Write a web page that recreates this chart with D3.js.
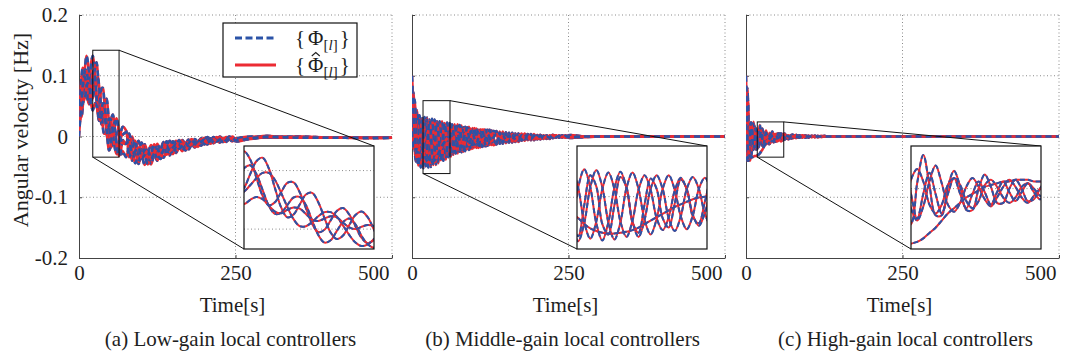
<!DOCTYPE html>
<html>
<head>
<meta charset="utf-8">
<script src="https://cdn.jsdelivr.net/npm/d3@7"></script>
<style>
  body { margin: 0; background: #fff; }
</style>
</head>
<body>
<svg id="chart" width="1068" height="356"></svg>
<script>
// ---- data ----
const xTicks = [0, 250, 500];
const yTicks = [-0.2, -0.1, 0, 0.1, 0.2];
const captions = ['(a) Low-gain local controllers', '(b) Middle-gain local controllers', '(c) High-gain local controllers'];
const legendLabels = ['Φ', 'Φ'];
const legendHat = [false, true];

// time grid of the low-gain traces [s]
const timeLow = [0, 2, 4, 6, 8, 10, 12, 14, 16, 18, 20, 22, 24, 26, 28, 30, 32, 34, 36, 38, 40, 42, 44, 46, 48, 50, 52, 54, 56, 58, 60, 62, 64, 66, 68, 70,
  75, 80, 85, 90, 95, 100, 105, 110, 115, 120, 125, 130, 135, 140, 145, 150, 155, 160, 165, 170, 175, 180, 185, 190, 195, 200, 205, 210, 215, 220, 225, 230, 235, 240, 245, 250,
  275, 300, 325, 350, 375, 400, 425, 450, 475, 500];

const lowGain = [
  [.035, .066, .097, .113, .109, .09, .068, .061, .073, .1, .125, .133, .119, .088, .057, .041, .046, .063, .079, .08, .063, .036, .009, -.005, -.001, .015, .031, .036, .025, .005, -.015, -.024, -.018, -.003, .012, .016,
    .01, -.016, -.04, -.024, -.007, -.028, -.047, -.03, -.014, -.028, -.04, -.024, -.009, -.02, -.031, -.018, -.007, -.016, -.024, -.014, -.005, -.012, -.018, -.01, -.003, -.008, -.013, -.007, -.001, -.006, -.01, -.005, -.001, -.004, -.008, -.004,
    -.002, .001, -.001, 0, -.001, -.002, -.002, -.002, -.002, -.002],
  [.06, .038, .032, .05, .084, .118, .133, .124, .098, .072, .06, .07, .094, .116, .122, .104, .07, .037, .02, .025, .042, .059, .062, .046, .019, -.006, -.017, -.011, .007, .024, .03, .02, -.001, -.02, -.029, -.024,
    -.034, -.016, 0, -.024, -.045, -.028, -.013, -.03, -.046, -.028, -.012, -.024, -.035, -.02, -.007, -.018, -.027, -.016, -.006, -.014, -.021, -.012, -.004, -.01, -.015, -.008, -.001, -.007, -.011, -.006, 0, -.005, -.009, -.004, 0, -.004,
    -.004, -.001, -.002, -.001, -.002, -.002, -.002, -.003, -.002, -.002],
  [.02, .032, .053, .077, .098, .11, .107, .095, .079, .066, .06, .064, .075, .087, .096, .096, .084, .062, .038, .017, .005, .005, .012, .022, .029, .029, .021, .006, -.01, -.023, -.029, -.026, -.017, -.007, .001, .003,
    .007, -.034, -.02, -.007, -.042, -.028, -.015, -.044, -.03, -.015, -.038, -.024, -.011, -.03, -.019, -.008, -.026, -.016, -.007, -.022, -.013, -.005, -.017, -.01, -.004, -.013, -.007, -.003, -.01, -.006, -.001, -.008, -.005, -.001, -.007, -.004,
    0, -.002, 0, -.001, -.002, -.002, -.002, -.002, -.002, -.002],
  [.015, .03, .057, .084, .099, .096, .078, .06, .053, .064, .085, .104, .109, .094, .067, .04, .026, .028, .041, .054, .055, .041, .015, -.01, -.023, -.019, -.003, .012, .018, .008, -.012, -.026, -.032, -.028, -.016, -.006,
    -.012, .005, -.02, -.044, -.026, -.01, -.03, -.046, -.03, -.013, -.026, -.037, -.022, -.008, -.019, -.029, -.017, -.006, -.015, -.023, -.013, -.004, -.011, -.017, -.009, -.002, -.007, -.012, -.006, -.001, -.005, -.009, -.005, 0, -.004, -.008,
    -.003, 0, -.002, -.001, -.001, -.002, -.002, -.002, -.003, -.002],
  [0, .03, .05, .055, .06, .066, .08, .088, .085, .068, .05, .043, .05, .055, .051, .04, .03, .027, .033, .037, .035, .026, .016, .014, .018, .022, .02, .011, .003, 0, .004, .007, .005, -.002, -.009, -.011,
    -.012, -.007, -.029, -.024, -.018, -.036, -.03, -.023, -.037, -.028, -.02, -.03, -.022, -.015, -.024, -.018, -.013, -.02, -.015, -.01, -.016, -.012, -.008, -.013, -.009, -.005, -.01, -.007, -.004, -.008, -.005, -.003, -.007, -.004, -.002, -.006,
    -.003, -.001, -.001, -.002, -.002, -.002, -.002, -.002, -.002, -.002]
];

const timeMiddle = [0, 2, 4, 6, 8, 10, 12, 14, 16, 18, 20, 22, 24, 26, 28, 30, 32, 34, 36, 38, 40, 42, 44, 46, 48, 50, 52, 54, 56, 58, 60, 62, 64, 66, 68, 70,
  73, 76, 79, 82, 85, 88, 91, 94, 97, 100, 103, 106, 109, 112, 115, 118, 121, 124, 127, 130,
  135, 140, 145, 150, 155, 160, 165, 170, 175, 180, 185, 190, 195, 200, 205, 210, 215, 220, 225, 230, 235, 240, 245, 250,
  275, 300, 325, 350, 375, 400, 425, 450, 475, 500];

const middleGain = [
  [.1, .055, -.009, -.041, -.025, .016, .035, .012, -.031, -.052, -.031, .011, .031, .011, -.03, -.05, -.03, .01, .028, .009, -.027, -.044, -.026, .009, .025, .008, -.023, -.038, -.022, .009, .022, .008, -.018, -.03, -.018, .007,
    .02, -.004, -.026, -.004, .016, -.004, -.022, -.003, .014, -.003, -.019, -.003, .012, -.003, -.016, -.002, .011, -.002, -.014, -.002,
    .009, -.012, .008, -.011, .006, -.01, .005, -.009, .005, -.007, .004, -.006, .004, -.005, .003, -.004, .002, -.004, .003, -.002, .002, -.002, .002, -.002,
    -.001, 0, 0, 0, 0, 0, 0, 0, 0, 0],
  [.025, -.02, -.009, .028, .043, .016, -.03, -.051, -.031, .011, .032, .011, -.031, -.051, -.03, .01, .029, .01, -.029, -.047, -.027, .009, .025, .009, -.025, -.04, -.023, .009, .023, .009, -.02, -.033, -.018, .008, .02, .007,
    -.028, -.004, .018, -.004, -.024, -.004, .016, -.003, -.02, -.003, .013, -.003, -.018, -.003, .012, -.002, -.015, -.002, .01, -.002,
    -.013, .008, -.012, .007, -.01, .006, -.009, .005, -.007, .005, -.006, .004, -.006, .003, -.005, .002, -.004, .002, -.003, .002, -.002, .002, -.002, .002,
    0, 0, 0, 0, 0, 0, 0, 0, 0, 0],
  [.05, .073, .04, -.019, -.041, -.006, .029, .013, -.032, -.046, -.01, .025, .012, -.032, -.044, -.01, .023, .011, -.03, -.042, -.009, .021, .009, -.025, -.036, -.008, .02, .009, -.023, -.031, -.006, .017, .009, -.018, -.026, -.005,
    -.004, -.025, -.004, .015, -.004, -.021, -.003, .013, -.003, -.018, -.003, .011, -.003, -.017, -.002, .011, -.002, -.014, -.002, .009,
    .006, -.009, .005, -.008, .004, -.008, .003, -.007, .003, -.005, .003, -.005, .002, -.004, .002, -.003, .001, -.003, .002, -.001, .001, -.001, .001, -.001,
    0, 0, 0, 0, 0, 0, 0, 0, 0, 0],
  [.026, .054, .061, .027, -.023, -.048, -.028, .011, .03, .01, -.03, -.049, -.029, .009, .028, .009, -.029, -.047, -.028, .008, .025, .008, -.025, -.039, -.024, .007, .022, .008, -.021, -.034, -.019, .007, .02, .007, -.017, -.028,
    -.004, .019, -.004, -.025, -.004, .015, -.003, -.021, -.003, .014, -.003, -.019, -.003, .012, -.002, -.016, -.002, .011, -.002, -.014,
    -.011, .006, -.01, .005, -.008, .004, -.008, .004, -.006, .004, -.005, .003, -.005, .002, -.004, .001, -.003, .001, -.002, .002, -.002, .002, -.002, .001,
    0, 0, 0, 0, 0, 0, 0, 0, 0, 0],
  [.08, .045, .01, -.015, -.025, -.025, -.02, -.018, -.02, -.025, -.032, -.037, -.04, -.042, -.043, -.043, -.042, -.041, -.039, -.036, -.032, -.028, -.024, -.02, -.016, -.012, -.009, -.006, -.003, -.001, 0, .001, 0, -.002, -.005, -.008,
    .004, -.007, -.018, -.006, .004, -.005, -.014, -.004, .004, -.004, -.011, -.003, .005, -.003, -.009, -.002, .004, -.002, -.008, -.002,
    .004, -.007, .003, -.006, .002, -.006, .002, -.005, .002, -.004, .002, -.004, .001, -.003, .001, -.003, 0, -.002, .002, -.001, .001, -.001, .001, -.001,
    0, 0, 0, 0, 0, 0, 0, 0, 0, 0]
];

const timeHigh = [0, 2, 4, 6, 8, 10, 12, 14, 16, 18, 20, 22, 24, 26, 28, 30, 32, 34, 36, 38, 40, 42, 44, 46, 48, 50, 52, 54, 56, 58, 60, 62, 64, 66, 68, 70,
  75, 80, 85, 90, 95, 100, 105, 110, 115, 120, 125, 130, 135, 140, 145, 150,
  175, 200, 225, 250, 275, 300, 325, 350, 375, 400, 425, 450, 475, 500];

const highGain = [
  [.056, .08, .017, -.04, -.032, .007, .024, .004, -.021, -.02, .003, .019, .002, -.015, -.015, .001, .01, .001, -.012, -.012, 0, .008, .001, -.008, -.008, 0, .005, 0, -.007, -.006, 0, .005, 0, -.004, -.004, 0,
    .003, -.003, .002, -.002, .002, -.002, .001, -.001, .001, -.001, .001, 0, 0, 0, 0, 0,
    0, 0, 0, 0, 0, 0, 0, 0, 0, 0, 0, 0, 0, 0],
  [.063, .065, .022, -.022, -.032, -.015, .007, .016, .006, -.011, -.018, -.01, .004, .013, .003, -.009, -.013, -.008, .001, .006, .001, -.006, -.01, -.005, .001, .005, .001, -.005, -.008, -.004, 0, .003, .001, -.003, -.004, -.003,
    -.003, .002, -.002, .002, -.001, .001, -.001, .001, -.001, 0, 0, 0, 0, 0, 0, 0,
    0, 0, 0, 0, 0, 0, 0, 0, 0, 0, 0, 0, 0, 0],
  [0, -.04, -.02, .012, .023, .008, -.013, -.02, -.011, .005, .011, .004, -.009, -.014, -.009, .002, .006, .002, -.007, -.011, -.007, .002, .005, .001, -.005, -.008, -.005, .001, .003, 0, -.004, -.005, -.003, .001, .002, .001,
    .002, -.002, .002, -.001, .001, -.001, .001, -.001, 0, 0, 0, 0, 0, 0, 0, 0,
    0, 0, 0, 0, 0, 0, 0, 0, 0, 0, 0, 0, 0, 0],
  [.1, .01, -.04, -.004, .023, -.003, -.022, -.003, .013, -.003, -.017, -.003, .009, -.003, -.014, -.003, .006, -.003, -.011, -.003, .004, -.002, -.009, -.002, .004, -.002, -.007, -.002, .003, -.002, -.006, -.001, .002, -.001, -.004, -.001,
    -.002, .003, -.002, .002, -.002, .001, -.001, .001, -.001, .001, 0, 0, 0, 0, 0, 0,
    0, 0, 0, 0, 0, 0, 0, 0, 0, 0, 0, 0, 0, 0],
  [.02, -.01, -.025, -.032, -.034, -.034, -.033, -.032, -.032, -.031, -.03, -.028, -.025, -.022, -.018, -.014, -.011, -.008, -.005, -.003, -.001, .001, .002, .003, .004, .004, .005, .005, .005, .004, .004, .003, .002, .001, 0, 0,
    0, -.001, 0, -.001, 0, 0, 0, 0, 0, 0, 0, 0, 0, 0, 0, 0,
    0, 0, 0, 0, 0, 0, 0, 0, 0, 0, 0, 0, 0, 0]
];

// zoomed windows: [t0, t1, v0, v1]
const zoomLow = [22, 64, -0.034, 0.142];
const zoomMiddle = [17.6, 60.7, -0.061, 0.059];
const zoomHigh = [18, 60.3, -0.034, 0.024];

// ---- layout ----
const serif = '"Liberation Serif", serif';
const blue = '#2b53a7';
const red = '#ec2b33';
const plotTop = 15;
const plotBottom = 258;
const plotWidth = 313;
const panelLeft = [79, 412, 746];
const captionShift = [-5, -6, 3];
const inset = { dx: 165, w: 130, top: 146, bottom: 249 };

const svg = d3.select('#chart');
const defs = svg.append('defs');

const panels = [
  { time: timeLow, series: lowGain, zoom: zoomLow },
  { time: timeMiddle, series: middleGain, zoom: zoomMiddle },
  { time: timeHigh, series: highGain, zoom: zoomHigh }
];

const addText = (parent, size) => parent.append('text')
  .attr('font-family', serif)
  .attr('font-size', size)
  .attr('fill', '#1e1e1e');

// red solid estimate first, blue dashed state on top
const drawTraces = (g, time, series, x, y, width, dash) => {
  const line = d3.line()
    .x((d, i) => x(time[i]))
    .y(d => y(d))
    .curve(d3.curveCatmullRom.alpha(0.5));

  series.forEach(s => {
    g.append('path')
      .attr('d', line(s))
      .style('fill', 'none')
      .style('stroke', red)
      .style('stroke-width', width);
    g.append('path')
      .attr('d', line(s))
      .style('fill', 'none')
      .style('stroke', blue)
      .style('stroke-width', width)
      .style('stroke-dasharray', dash);
  });
};

panels.forEach((p, idx) => {
  const left = panelLeft[idx];
  const right = left + plotWidth;
  const x = d3.scaleLinear().domain([0, 500]).range([left, right]);
  const y = d3.scaleLinear().domain([-0.2, 0.2]).range([plotBottom, plotTop]);
  const g = svg.append('g');

  // grid
  g.selectAll('line.grid-y')
    .data(yTicks.filter(v => v > -0.2))
    .enter()
    .append('line')
    .attr('x1', left).attr('x2', right)
    .attr('y1', d => y(d)).attr('y2', d => y(d))
    .style('stroke', '#8a8a8a')
    .style('stroke-dasharray', '1,2.5');
  g.selectAll('line.grid-x')
    .data(xTicks.filter(v => v > 0))
    .enter()
    .append('line')
    .attr('x1', d => x(d)).attr('x2', d => x(d))
    .attr('y1', plotTop).attr('y2', plotBottom)
    .style('stroke', '#8a8a8a')
    .style('stroke-dasharray', '1,2.5');

  // axes
  const xAxis = d3.axisBottom(x)
    .tickValues(xTicks)
    .tickSizeInner(-3)
    .tickSizeOuter(0)
    .tickPadding(7)
    .tickFormat(d => String(d));
  const gx = g.append('g').attr('transform', `translate(0,${plotBottom})`).call(xAxis);

  const yAxis = d3.axisLeft(y)
    .tickValues(yTicks)
    .tickSizeInner(-3)
    .tickSizeOuter(0)
    .tickPadding(11)
    .tickFormat(d => idx === 0 ? String(d) : '');
  const gy = g.append('g').attr('transform', `translate(${left},0)`).call(yAxis);

  [gx, gy].forEach(a => {
    a.attr('font-family', null).attr('font-size', null);
    a.selectAll('text')
      .attr('font-family', serif)
      .attr('font-size', 21)
      .attr('fill', '#1e1e1e');
    a.select('.domain').style('stroke', '#444');
    a.selectAll('.tick line').style('stroke', '#444');
  });
  gx.selectAll('.tick').filter(d => d === 500).select('text')
    .attr('text-anchor', 'end').attr('x', -3);

  // traces
  defs.append('clipPath').attr('id', `clip-main-${idx}`)
    .append('rect')
    .attr('x', left).attr('y', plotTop)
    .attr('width', plotWidth).attr('height', plotBottom - plotTop);
  const traces = g.append('g').attr('clip-path', `url(#clip-main-${idx})`);
  drawTraces(traces, p.time, p.series, x, y, 2.6, '6,4');

  // zoom box and connectors
  const [t0, t1, v0, v1] = p.zoom;
  const iL = left + inset.dx;
  const iR = iL + inset.w;

  g.append('rect')
    .attr('x', x(t0)).attr('y', y(v1))
    .attr('width', x(t1) - x(t0)).attr('height', y(v0) - y(v1))
    .style('fill', 'none').style('stroke', '#111').style('stroke-width', 1);
  g.append('line')
    .attr('x1', x(t1)).attr('y1', y(v1)).attr('x2', iR).attr('y2', inset.top)
    .style('stroke', '#111');
  g.append('line')
    .attr('x1', x(t0)).attr('y1', y(v0)).attr('x2', iL).attr('y2', inset.bottom)
    .style('stroke', '#111');

  // inset
  const xi = d3.scaleLinear().domain([t0, t1]).range([iL, iR]);
  const yi = d3.scaleLinear().domain([v0, v1]).range([inset.bottom, inset.top]);
  g.append('rect')
    .attr('x', iL).attr('y', inset.top)
    .attr('width', inset.w).attr('height', inset.bottom - inset.top)
    .style('fill', '#fff');
  g.selectAll('line.inset-grid')
    .data(yTicks.filter(v => v > v0 && v < v1))
    .enter()
    .append('line')
    .attr('x1', iL).attr('x2', iR)
    .attr('y1', d => yi(d)).attr('y2', d => yi(d))
    .style('stroke', '#8a8a8a')
    .style('stroke-dasharray', '1,2.5');
  defs.append('clipPath').attr('id', `clip-inset-${idx}`)
    .append('rect')
    .attr('x', iL).attr('y', inset.top)
    .attr('width', inset.w).attr('height', inset.bottom - inset.top);
  const insetTraces = g.append('g').attr('clip-path', `url(#clip-inset-${idx})`);
  drawTraces(insetTraces, p.time, p.series, xi, yi, 2, '5,3');
  g.append('rect')
    .attr('x', iL).attr('y', inset.top)
    .attr('width', inset.w).attr('height', inset.bottom - inset.top)
    .style('fill', 'none').style('stroke', '#111').style('stroke-width', 1.2);

  // labels
  addText(g, 21)
    .attr('x', (left + right) / 2 - 3).attr('y', 312)
    .attr('text-anchor', 'middle')
    .text('Time[s]');
  addText(g, 21)
    .attr('x', (left + right) / 2 + captionShift[idx]).attr('y', 346)
    .attr('text-anchor', 'middle')
    .text(captions[idx]);
});

addText(svg, 22)
  .attr('transform', 'translate(20,130) rotate(-90)')
  .attr('text-anchor', 'middle')
  .attr('dominant-baseline', 'central')
  .text('Angular velocity [Hz]');

// legend
const legend = svg.append('g').attr('transform', 'translate(223,23)');
legend.append('rect')
  .attr('width', 134).attr('height', 54)
  .style('fill', '#fff').style('stroke', '#111').style('stroke-width', 1.2);

legendLabels.forEach((label, i) => {
  const cy = 15 + i * 27;
  legend.append('line')
    .attr('x1', 12).attr('x2', 53).attr('y1', cy).attr('y2', cy)
    .style('stroke', i === 0 ? blue : red)
    .style('stroke-width', 3)
    .style('stroke-dasharray', i === 0 ? '7,3.5' : null);

  const t = addText(legend, 21).attr('x', 72).attr('y', cy + 7);
  t.append('tspan').text('{');
  t.append('tspan').attr('dx', 3).text(label);
  t.append('tspan').attr('dy', 5).attr('font-size', 15).text('[');
  t.append('tspan').attr('font-size', 15).attr('font-style', 'italic').text('l');
  t.append('tspan').attr('font-size', 15).text(']');
  t.append('tspan').attr('dy', -5).attr('dx', 2).text('}');

  // hat accent drawn as a small stroke above Φ
  if (legendHat[i]) {
    const box = t.node().getExtentOfChar(1);
    const cx = box.x + box.width / 2;
    legend.append('path')
      .attr('d', d3.line()([[cx - 4, cy - 9], [cx, cy - 12.5], [cx + 4, cy - 9]]))
      .style('fill', 'none')
      .style('stroke', '#1e1e1e')
      .style('stroke-width', 1.1);
  }
});
</script>
</body>
</html>
